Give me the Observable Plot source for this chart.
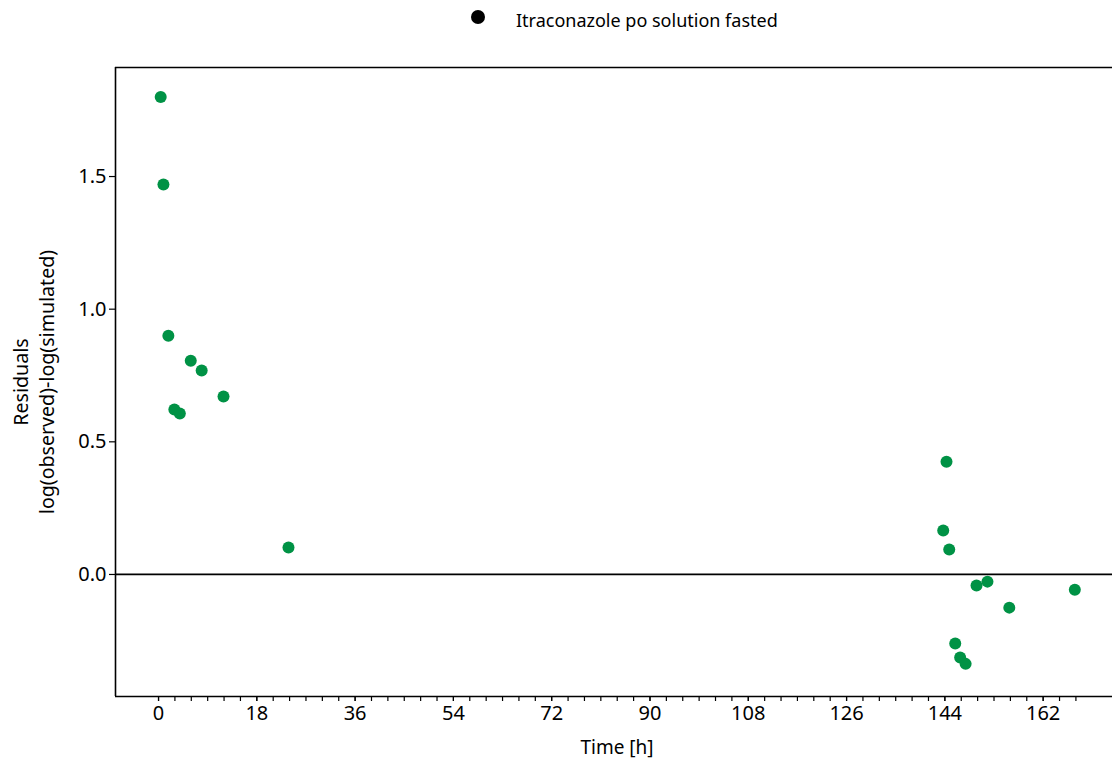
<!DOCTYPE html>
<html>
<head>
<meta charset="utf-8">
<script src="https://cdn.jsdelivr.net/npm/d3@7"></script>
<script src="https://cdn.jsdelivr.net/npm/@observablehq/plot@0.6"></script>
<style>
  body { margin: 0; background: #fff; font-family: "Noto Sans", sans-serif; }
  #legend { position: relative; width: 1112px; height: 40px; }
  #legend .dot { position: absolute; left: 471px; top: 10px; width: 14px; height: 14px; border-radius: 50%; background: #000; }
  #legend .lbl { position: absolute; left: 516px; top: 11px; font-size: 18px; line-height: 18px; color: #000; white-space: nowrap; }
</style>
</head>
<body>
<div id="legend"><span class="dot"></span><span class="lbl" id="legendLabel"></span></div>
<div id="chart"></div>
<script>
// Residuals of the itraconazole fit, by sampling time
const seriesName = "Itraconazole po solution fasted";
const timeH = [0.4, 0.9, 1.8, 2.9, 3.9, 5.9, 7.9, 11.9, 23.8,
               144.3, 143.7, 144.8, 145.9, 146.8, 147.8, 149.8, 151.8, 155.8, 167.8];
const residuals = [1.80, 1.47, 0.90, 0.622, 0.607, 0.806, 0.769, 0.671, 0.102,
                   0.425, 0.166, 0.094, -0.260, -0.313, -0.337, -0.042, -0.027, -0.125, -0.058];
const majorTicks = [0, 18, 36, 54, 72, 90, 108, 126, 144, 162];
const minorTicks = d3.range(0, 169, 3);
const yTicks = [0, 0.5, 1.0, 1.5];
const xDomain = [-7.88, 174.7];
const yDomain = [-0.46, 1.911];
const xTitle = "Time [h]";
const yTitle = "Residuals\nlog(observed)-log(simulated)";

document.getElementById("legendLabel").textContent = seriesName;

const points = timeH.map((t, i) => ({time: t, residual: residuals[i]}));

const chart = Plot.plot({
  width: 1112,
  height: 729,
  marginLeft: 115,
  marginRight: 0,
  marginTop: 27,
  marginBottom: 73,
  style: {fontFamily: "Noto Sans", fontSize: "20px", color: "#000", background: "#fff"},
  x: {domain: xDomain},
  y: {domain: yDomain},
  marks: [
    Plot.axisX(minorTicks, {tickSize: 5, tickFormat: () => "", label: null, strokeWidth: 1.2}),
    Plot.axisX(majorTicks, {tickSize: 5, tickPadding: 4, label: null, strokeWidth: 1.2}),
    Plot.axisY(yTicks, {tickSize: 6, tickPadding: 3, tickFormat: d3.format(".1f"), label: null, strokeWidth: 1.2}),
    Plot.ruleX([xDomain[0]], {stroke: "#000", strokeWidth: 1.6}),
    Plot.ruleY([yDomain[0], yDomain[1]], {stroke: "#000", strokeWidth: 1.6}),
    Plot.ruleY([0], {stroke: "#000", strokeWidth: 1.8}),
    Plot.dot(points, {x: "time", y: "residual", r: 6, fill: "#009245", stroke: null}),
    Plot.text([xTitle], {text: d => d, frameAnchor: "bottom", dy: 57, dx: 3, fontSize: 19, fill: "#000"}),
    Plot.text([yTitle], {text: d => d, frameAnchor: "left", textAnchor: "middle", rotate: -90, dx: -82.5, lineHeight: 1.32, fontSize: 19.6, fill: "#000"})
  ]
});
document.getElementById("chart").appendChild(chart);
</script>
</body>
</html>
